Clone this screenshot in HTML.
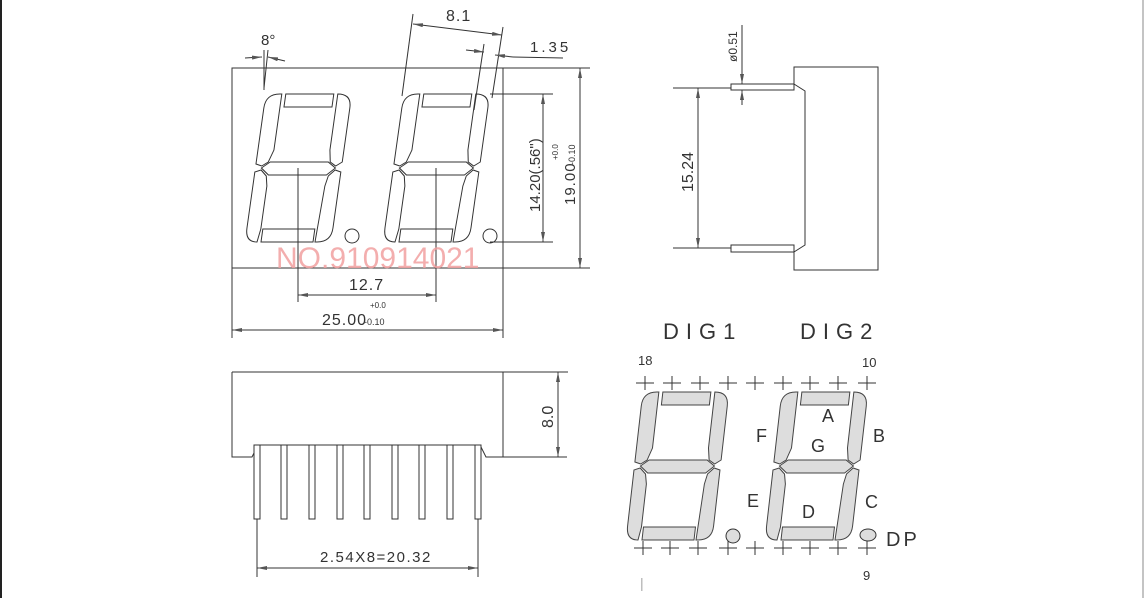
<!DOCTYPE html>
<html><head><style>
html,body{margin:0;padding:0;background:#fff;}
svg{display:block;font-family:"Liberation Sans Narrow","Liberation Sans",sans-serif;}
</style></head><body>
<svg width="1144" height="598" viewBox="0 0 1144 598" xmlns="http://www.w3.org/2000/svg">
<defs>
<g id="dig">
  <path d="M0,-134 Q0,-148 14,-148 L16,-148 L16,-92 L12,-80 L6,-76 L0,-78 Z"/>
  <rect x="20" y="-148" width="48" height="13"/>
  <path d="M72,-148 Q86,-148 86,-134 L86,-80 L80,-76 L74,-80 L72,-92 Z"/>
  <path d="M6,-74 L14,-80 L72,-80 L80,-74 L72,-67 L14,-67 Z"/>
  <path d="M0,-70 L6,-72 L12,-66 L14,-56 L14,-13 L12,0 L12,0 Q0,0 0,-14 Z"/>
  <path d="M74,-66 L80,-72 L86,-70 L86,-14 Q86,0 72,0 L70,0 L72,-56 Z"/>
  <rect x="16" y="-13" width="52" height="13"/>
</g>
<marker id="ar" viewBox="0 0 10 4" refX="10" refY="2" markerWidth="10" markerHeight="4" orient="auto-start-reverse" markerUnits="userSpaceOnUse"><path d="M0,0 L10,2 L0,4 Z" fill="#555"/></marker>
</defs>
<line x1="1" y1="0" x2="1" y2="598" stroke="#222" stroke-width="2"/>
<line x1="1143" y1="0" x2="1143" y2="598" stroke="#888" stroke-width="1"/>

<g stroke="#333" stroke-width="1" fill="none">
<rect x="232" y="68" width="271" height="200"/>
<line x1="503" y1="68" x2="590" y2="68"/><line x1="503" y1="268" x2="590" y2="268"/>
<line x1="580" y1="68" x2="580" y2="268" marker-start="url(#ar)" marker-end="url(#ar)"/>
<line x1="490" y1="94" x2="553" y2="94"/><line x1="490" y1="242" x2="553" y2="242"/>
<line x1="543" y1="94" x2="543" y2="242" marker-start="url(#ar)" marker-end="url(#ar)"/>
<g transform="translate(245,242) skewX(-8)" fill="#fff" stroke="#333"><use href="#dig"/></g>
<g transform="translate(383,242) skewX(-8)" fill="#fff" stroke="#333"><use href="#dig"/></g>
<circle cx="352" cy="236" r="7"/><circle cx="490" cy="236" r="7"/>
<line x1="298" y1="168" x2="298" y2="302"/><line x1="436" y1="168" x2="436" y2="302"/>
<line x1="298" y1="295" x2="436" y2="295" marker-start="url(#ar)" marker-end="url(#ar)"/>
<line x1="232" y1="268" x2="232" y2="338"/><line x1="503" y1="268" x2="503" y2="338"/>
<line x1="232" y1="330" x2="503" y2="330" marker-start="url(#ar)" marker-end="url(#ar)"/>
<line x1="264" y1="50" x2="264" y2="90"/><line x1="268" y1="50" x2="264" y2="88"/>
<line x1="245" y1="58" x2="262" y2="57" marker-end="url(#ar)"/><line x1="285" y1="61" x2="268" y2="57" marker-end="url(#ar)"/>
<line x1="413" y1="14" x2="402" y2="96"/><line x1="503" y1="27" x2="492" y2="98"/>
<line x1="413" y1="24" x2="502" y2="35" marker-start="url(#ar)" marker-end="url(#ar)"/>
<line x1="484" y1="44" x2="474" y2="110"/>
<line x1="466" y1="50" x2="484" y2="52" marker-end="url(#ar)"/>
<line x1="513" y1="57" x2="495" y2="55" marker-end="url(#ar)"/><line x1="513" y1="57" x2="563" y2="58"/>

<path d="M232,372 L568,372 M232,372 L232,457 L252,457 L258,445 L480,445 L486,457 L567,457 M503,372 L503,457"/>
<line x1="558" y1="372" x2="558" y2="457" marker-start="url(#ar)" marker-end="url(#ar)"/>
<g fill="#fff">
<rect x="254" y="445" width="6" height="74"/><rect x="281" y="445" width="6" height="74"/>
<rect x="309" y="445" width="6" height="74"/><rect x="337" y="445" width="6" height="74"/>
<rect x="364" y="445" width="6" height="74"/><rect x="392" y="445" width="6" height="74"/>
<rect x="419" y="445" width="6" height="74"/><rect x="447" y="445" width="6" height="74"/>
<rect x="475" y="445" width="6" height="74"/>
</g>
<line x1="257" y1="519" x2="257" y2="577"/><line x1="478" y1="519" x2="478" y2="577"/>
<line x1="257" y1="568" x2="478" y2="568" marker-start="url(#ar)" marker-end="url(#ar)"/>

<path d="M794,67 L878,67 L878,270 L794,270 L794,252 L805,245 L805,91 L794,84 Z"/>
<rect x="731" y="84" width="63" height="6" fill="#fff"/>
<rect x="731" y="245" width="63" height="7" fill="#fff"/>
<line x1="673" y1="88" x2="731" y2="88"/><line x1="673" y1="248" x2="731" y2="248"/>
<line x1="698" y1="88" x2="698" y2="248" marker-start="url(#ar)" marker-end="url(#ar)"/>
<line x1="742" y1="25" x2="742" y2="84" marker-end="url(#ar)"/>
<line x1="742" y1="105" x2="742" y2="90" marker-end="url(#ar)"/>

<g transform="translate(626,540) skewX(-6.5)" fill="#ddd" stroke="#444"><use href="#dig"/></g>
<g transform="translate(765,540) skewX(-6.5)" fill="#ddd" stroke="#444"><use href="#dig"/></g>
<ellipse cx="733" cy="536" rx="7" ry="7" fill="#ddd"/>
<ellipse cx="868" cy="535" rx="8" ry="6" fill="#ddd"/>
<path d="M636,383h18M645,376v14 M663,383h18M672,376v14 M691,383h18M700,376v14 M719,383h18M728,376v14 M746,383h18M755,376v14 M774,383h18M783,376v14 M801,383h18M810,376v14 M829,383h18M838,376v14 M858,383h18M867,376v14"/>
<path d="M634,548h18M643,541v14 M661,548h18M670,541v14 M689,548h18M698,541v14 M719,548h18M728,541v14 M746,548h18M755,541v14 M774,548h18M783,541v14 M801,548h18M810,541v14 M829,548h18M838,541v14 M858,548h18M867,541v14"/>
</g>

<g fill="#333" font-size="15">
<text x="261" y="45">8°</text>
<text x="446" y="21" font-size="16" letter-spacing="1">8.1</text>
<text x="530" y="52" font-size="15" letter-spacing="3">1.35</text>
<text transform="translate(540,212) rotate(-90)" font-size="15">14.20(.56")</text>
<text transform="translate(558,160) rotate(-90)" font-size="8">+0.0</text>
<text transform="translate(575,205) rotate(-90)" font-size="15" letter-spacing="1">19.00</text>
<text transform="translate(575,165) rotate(-90)" font-size="9">-0.10</text>
<text x="349" y="290" font-size="16" letter-spacing="1">12.7</text>
<text x="370" y="308" font-size="8">+0.0</text>
<text x="322" y="325" font-size="16" letter-spacing="1">25.00</text>
<text x="364" y="325" font-size="9">-0.10</text>
<text transform="translate(553,428) rotate(-90)" font-size="16">8.0</text>
<text x="320" y="562" font-size="15" letter-spacing="1.5">2.54X8=20.32</text>
<text transform="translate(693,192) rotate(-90)" font-size="16">15.24</text>
<text transform="translate(737,62) rotate(-90)" font-size="12">ø0.51</text>
<text x="663" y="339" font-size="22" letter-spacing="7">DIG1</text>
<text x="800" y="339" font-size="22" letter-spacing="7">DIG2</text>
<text x="638" y="365" font-size="13">18</text>
<text x="862" y="367" font-size="13">10</text>
<text x="863" y="580" font-size="13">9</text>
<text x="640" y="588" font-size="14" fill="#aaa">|</text>
<text x="822" y="422" font-size="18">A</text>
<text x="873" y="442" font-size="18">B</text>
<text x="756" y="442" font-size="18">F</text>
<text x="811" y="452" font-size="18">G</text>
<text x="747" y="507" font-size="18">E</text>
<text x="865" y="508" font-size="18">C</text>
<text x="802" y="518" font-size="18">D</text>
<text x="886" y="546" font-size="20" letter-spacing="3">DP</text>
</g>
<text x="276" y="268" font-size="30" font-family="Liberation Sans, sans-serif" fill="#f2a0a0" opacity="0.85">NO.910914021</text>
</svg>
</body></html>
